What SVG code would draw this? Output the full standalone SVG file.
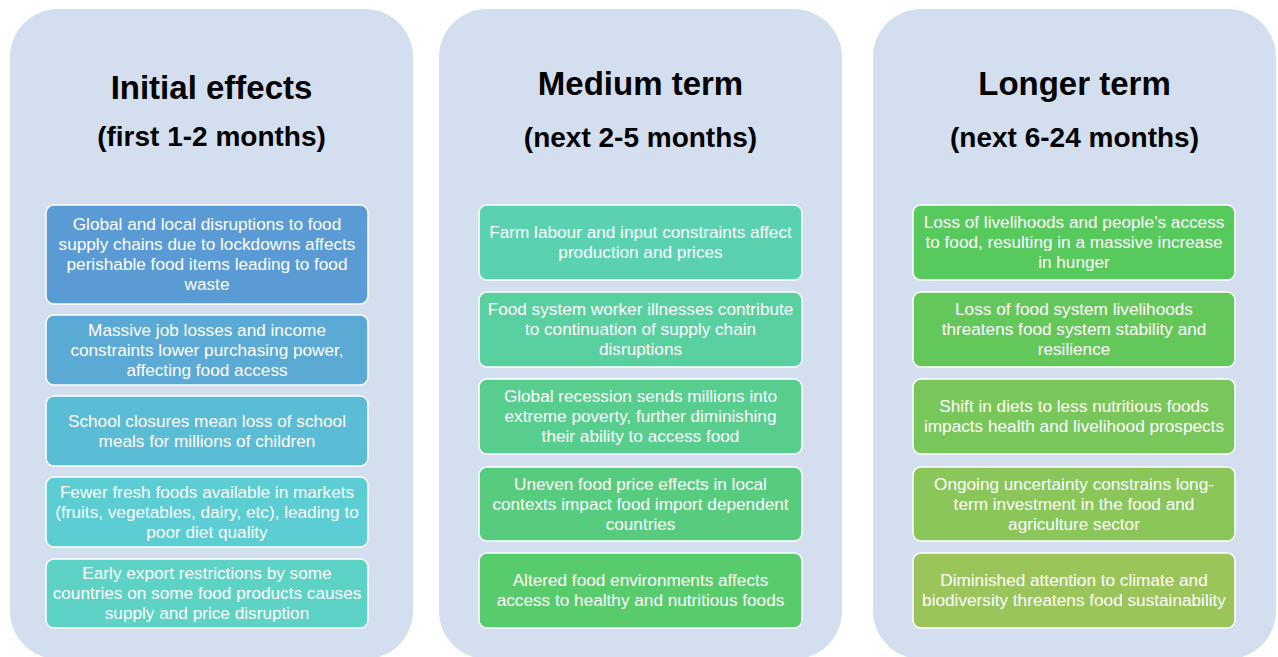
<svg xmlns="http://www.w3.org/2000/svg" width="1278" height="657" viewBox="0 0 1278 657">
<style>
.panel{fill:#D3DEEF}
.box{stroke:#FFFFFF;stroke-width:1.5}
.t{font-family:"Liberation Sans",Arial,sans-serif;font-weight:bold;font-size:33px;fill:#000;text-anchor:middle}
.s{font-family:"Liberation Sans",Arial,sans-serif;font-weight:bold;font-size:28px;fill:#000;text-anchor:middle}
.b{font-family:"Liberation Sans",Arial,sans-serif;font-size:17.2px;fill:#FFFFFF;text-anchor:middle}
</style>
<rect width="1278" height="657" fill="#FFFFFF"/>
<g id="panel-initial">
<rect class="panel" x="10" y="9" width="403" height="650" rx="48"/>
<text class="t" x="211.5" y="99">Initial effects</text>
<text class="s" x="211.5" y="146">(first 1-2 months)</text>
</g>
<g id="panel-medium">
<rect class="panel" x="439" y="9" width="403" height="650" rx="48"/>
<text class="t" x="640.5" y="95">Medium term</text>
<text class="s" x="640.5" y="147">(next 2-5 months)</text>
</g>
<g id="panel-longer">
<rect class="panel" x="873" y="9" width="403" height="650" rx="48"/>
<text class="t" x="1074.5" y="95">Longer term</text>
<text class="s" x="1074.5" y="147">(next 6-24 months)</text>
</g>
<g id="i1"><rect class="box" x="46" y="205" width="322" height="99" rx="8" fill="#5B9BD5"/>
<text class="b" x="207" y="230">Global and local disruptions to food</text>
<text class="b" x="207" y="250">supply chains due to lockdowns affects</text>
<text class="b" x="207" y="270">perishable food items leading to food</text>
<text class="b" x="207" y="290">waste</text></g>
<g id="i2"><rect class="box" x="46" y="315" width="322" height="70" rx="8" fill="#5BAAD5"/>
<text class="b" x="207" y="335.5">Massive job losses and income</text>
<text class="b" x="207" y="355.5">constraints lower purchasing power,</text>
<text class="b" x="207" y="375.5">affecting food access</text></g>
<g id="i3"><rect class="box" x="46" y="396" width="322" height="70" rx="8" fill="#5BBCD5"/>
<text class="b" x="207" y="426.5">School closures mean loss of school</text>
<text class="b" x="207" y="446.5">meals for millions of children</text></g>
<g id="i4"><rect class="box" x="46" y="477" width="322" height="70" rx="8" fill="#5BCDD3"/>
<text class="b" x="207" y="497.5">Fewer fresh foods available in markets</text>
<text class="b" x="207" y="517.5">(fruits, vegetables, dairy, etc), leading to</text>
<text class="b" x="207" y="537.5">poor diet quality</text></g>
<g id="i5"><rect class="box" x="46" y="559" width="322" height="69" rx="8" fill="#5CD3C5"/>
<text class="b" x="207" y="579">Early export restrictions by some</text>
<text class="b" x="207" y="599">countries on some food products causes</text>
<text class="b" x="207" y="619">supply and price disruption</text></g>
<g id="m1"><rect class="box" x="479" y="205" width="323" height="75" rx="8" fill="#5AD2B2"/>
<text class="b" x="640.5" y="238">Farm labour and input constraints affect</text>
<text class="b" x="640.5" y="258">production and prices</text></g>
<g id="m2"><rect class="box" x="479" y="292" width="323" height="75" rx="8" fill="#59D0A0"/>
<text class="b" x="640.5" y="315">Food system worker illnesses contribute</text>
<text class="b" x="640.5" y="335">to continuation of supply chain</text>
<text class="b" x="640.5" y="355">disruptions</text></g>
<g id="m3"><rect class="box" x="479" y="379" width="323" height="75" rx="8" fill="#58CE8E"/>
<text class="b" x="640.5" y="402">Global recession sends millions into</text>
<text class="b" x="640.5" y="422">extreme poverty, further diminishing</text>
<text class="b" x="640.5" y="442">their ability to access food</text></g>
<g id="m4"><rect class="box" x="479" y="467" width="323" height="74" rx="8" fill="#58CC7E"/>
<text class="b" x="640.5" y="489.5">Uneven food price effects in local</text>
<text class="b" x="640.5" y="509.5">contexts impact food import dependent</text>
<text class="b" x="640.5" y="529.5">countries</text></g>
<g id="m5"><rect class="box" x="479" y="553" width="323" height="75" rx="8" fill="#58CB6C"/>
<text class="b" x="640.5" y="586">Altered food environments affects</text>
<text class="b" x="640.5" y="606">access to healthy and nutritious foods</text></g>
<g id="l1"><rect class="box" x="913" y="205" width="322" height="75" rx="8" fill="#58C95C"/>
<text class="b" x="1074" y="228">Loss of livelihoods and people’s access</text>
<text class="b" x="1074" y="248">to food, resulting in a massive increase</text>
<text class="b" x="1074" y="268">in hunger</text></g>
<g id="l2"><rect class="box" x="913" y="292" width="322" height="75" rx="8" fill="#64C75A"/>
<text class="b" x="1074" y="315">Loss of food system livelihoods</text>
<text class="b" x="1074" y="335">threatens food system stability and</text>
<text class="b" x="1074" y="355">resilience</text></g>
<g id="l3"><rect class="box" x="913" y="379" width="322" height="75" rx="8" fill="#79C75A"/>
<text class="b" x="1074" y="412">Shift in diets to less nutritious foods</text>
<text class="b" x="1074" y="432">impacts health and livelihood prospects</text></g>
<g id="l4"><rect class="box" x="913" y="467" width="322" height="74" rx="8" fill="#8AC65A"/>
<text class="b" x="1074" y="489.5">Ongoing uncertainty constrains long-</text>
<text class="b" x="1074" y="509.5">term investment in the food and</text>
<text class="b" x="1074" y="529.5">agriculture sector</text></g>
<g id="l5"><rect class="box" x="913" y="553" width="322" height="75" rx="8" fill="#9BC55A"/>
<text class="b" x="1074" y="586">Diminished attention to climate and</text>
<text class="b" x="1074" y="606">biodiversity threatens food sustainability</text></g>
<g id="connectors"></g>
</svg>
